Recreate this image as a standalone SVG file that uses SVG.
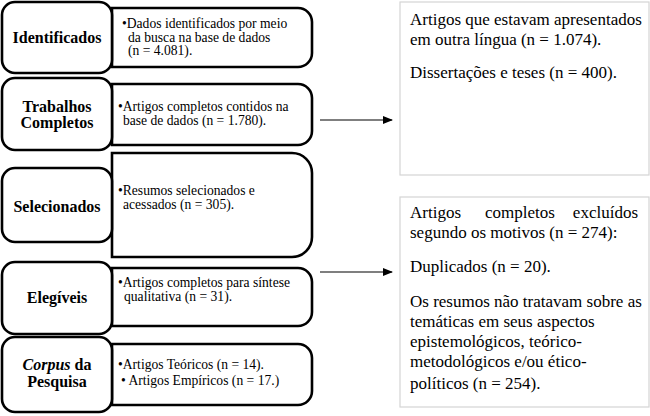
<svg xmlns="http://www.w3.org/2000/svg" width="650" height="416" viewBox="0 0 650 416">
<defs>
<style>
.lb{fill:#fff;stroke:#000;stroke-width:2.6}
.cb{fill:#fff;stroke:#000;stroke-width:2.6}
.rb{fill:#fff;stroke:#d4d4d4;stroke-width:1.2}
.h{font-family:"Liberation Serif","Times New Roman",serif;font-weight:bold;font-size:16px;text-anchor:middle;fill:#000}
.t{font-family:"Liberation Serif","Times New Roman",serif;font-size:13.6px;fill:#000}
.r{font-family:"Liberation Serif","Times New Roman",serif;font-size:17px;fill:#000}
.ar{stroke:#000;stroke-width:1.2;fill:none}
</style>
<marker id="ah" markerWidth="10" markerHeight="8" refX="9" refY="4" orient="auto" markerUnits="userSpaceOnUse">
<path d="M0,0 L10,4 L0,8 Z" fill="#000"/>
</marker>
</defs>
<rect width="650" height="416" fill="#fff"/>

<g id="identificados">
<path class="cb" d="M112,8 H298 A14,14 0 0 1 312,22 V53 A14,14 0 0 1 298,67 H112 Z"/>
<rect class="lb" x="2" y="2" width="110" height="71" rx="13"/>
<text class="h" x="57" y="43">Identificados</text>
<text class="t" x="122" y="28">•Dados identificados por meio</text>
<text class="t" x="128" y="41.5">da busca na base de dados</text>
<text class="t" x="128" y="55">(n = 4.081).</text>
</g>

<g id="trabalhos">
<path class="cb" d="M112,84 H298 A14,14 0 0 1 312,98 V131 A14,14 0 0 1 298,145 H112 Z"/>
<rect class="lb" x="2" y="78" width="110" height="72" rx="13"/>
<text class="h" x="57" y="112">Trabalhos</text>
<text class="h" x="57" y="128">Completos</text>
<text class="t" x="118" y="111">•Artigos completos contidos na</text>
<text class="t" x="123" y="125">base de dados (n = 1.780).</text>
</g>

<g id="selecionados">
<path class="cb" d="M112,153 H292 A20,20 0 0 1 312,173 V237 A20,20 0 0 1 292,257 H112 Z"/>
<rect class="lb" x="2" y="168" width="110" height="74" rx="13"/>
<text class="h" x="57" y="212">Selecionados</text>
<text class="t" x="118" y="195">•Resumos selecionados e</text>
<text class="t" x="123" y="208.5">acessados (n = 305).</text>
</g>

<g id="elegiveis">
<path class="cb" d="M112,268 H298 A14,14 0 0 1 312,282 V312 A14,14 0 0 1 298,326 H112 Z"/>
<rect class="lb" x="2" y="262" width="110" height="72" rx="13"/>
<text class="h" x="57" y="303">Elegíveis</text>
<text class="t" x="118" y="287">•Artigos completos para síntese</text>
<text class="t" x="124" y="300.5">qualitativa (n = 31).</text>
</g>

<g id="corpus">
<path class="cb" d="M112,344 H298 A14,14 0 0 1 312,358 V391 A14,14 0 0 1 298,405 H112 Z"/>
<rect class="lb" x="2" y="337" width="110" height="75" rx="13"/>
<text class="h" x="57" y="370"><tspan font-style="italic">Corpus</tspan> da</text>
<text class="h" x="57" y="387">Pesquisa</text>
<text class="t" x="118" y="369">•Artigos Teóricos (n = 14).</text>
<text class="t" x="121" y="385">• Artigos Empíricos (n = 17.)</text>
</g>

<g id="excluidos1">
<rect class="rb" x="400" y="2" width="249" height="173"/>
<text class="r" x="410" y="25">Artigos que estavam apresentados</text>
<text class="r" x="410" y="45">em outra língua (n = 1.074).</text>
<text class="r" x="410" y="78">Dissertações e teses (n = 400).</text>
</g>

<g id="excluidos2">
<rect class="rb" x="400" y="197" width="249" height="210"/>
<text class="r" x="410" y="218">Artigos</text>
<text class="r" x="485" y="218">completos</text>
<text class="r" x="638" y="218" text-anchor="end">excluídos</text>
<text class="r" x="410" y="238">segundo os motivos (n = 274):</text>
<text class="r" x="410" y="272">Duplicados (n = 20).</text>
<text class="r" x="410" y="307">Os resumos não tratavam sobre as</text>
<text class="r" x="410" y="327">temáticas em seus aspectos</text>
<text class="r" x="410" y="347">epistemológicos, teórico-</text>
<text class="r" x="410" y="367">metodológicos e/ou ético-</text>
<text class="r" x="410" y="389">políticos (n = 254).</text>
</g>

<g id="connectors">
<line class="ar" x1="320" y1="120" x2="392" y2="120" marker-end="url(#ah)"/>
<line class="ar" x1="320" y1="272" x2="392" y2="272" marker-end="url(#ah)"/>
</g>
</svg>
